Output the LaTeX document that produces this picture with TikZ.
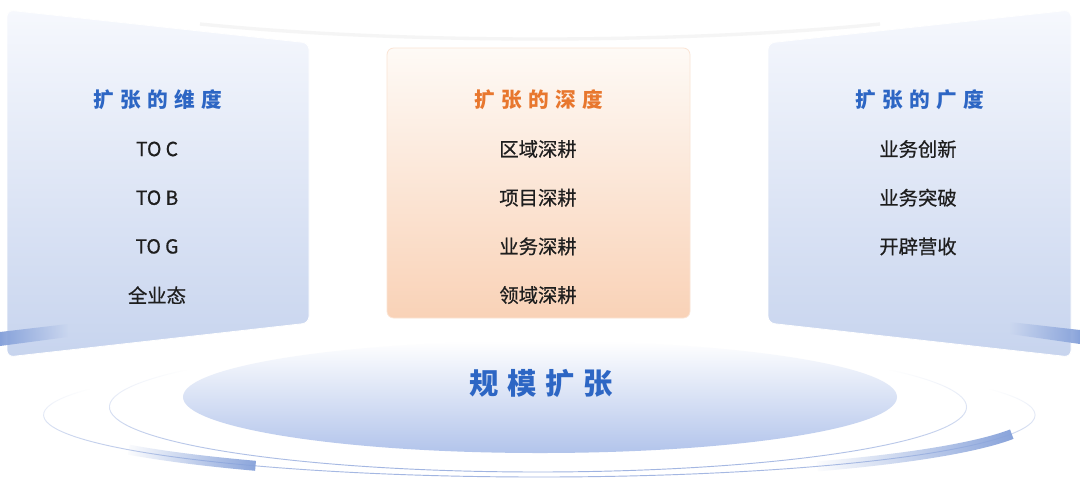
\documentclass[tikz,border=0pt]{standalone}
\usepackage{fontspec}
\newfontfamily\cjk{Noto Sans CJK SC}[FakeBold=0.6] % a little heavier
\newfontfamily\cjkwide{Noto Sans CJK SC}[LetterSpace=30] % spaced titles
\usetikzlibrary{fadings}
\definecolor{titleblue}{RGB}{45,102,196}
\definecolor{titleorange}{RGB}{232,119,46}
\definecolor{itemgray}{RGB}{30,30,30}
\definecolor{paneltop}{RGB}{246,248,253}
\definecolor{panelblue}{RGB}{199,212,238}
\definecolor{peachtop}{RGB}{254,250,246}
\definecolor{peach}{RGB}{249,210,183}
\definecolor{ringblue}{RGB}{150,172,222}
\definecolor{stripeblue}{RGB}{135,162,218}
\definecolor{discblue}{RGB}{178,196,235}
\tikzset{
  x = 0.75pt, % one pixel of the picture
  y = -0.75pt, % y runs downwards
  panel/.style = { % glassy side panel
    rounded corners = 5pt,
    top color = paneltop,
    bottom color = panelblue,
    draw = white,
    line width = 0.6pt,
  },
  midpanel/.style = { % orange centre panel
    rounded corners = 5pt,
    top color = peachtop,
    bottom color = peach,
    draw = peach!60,
    line width = 0.6pt,
  },
  ring/.style = { % thin floor ring
    draw = ringblue,
    line width = 0.7pt,
    path fading = north, % fade out to the top
  },
  stripe/.style = { % thick arc piece
    draw = stripeblue,
    line width = 7.5pt,
    path fading = west, % left end fades out
  },
  title/.style = { % panel heading
    font = \cjkwide\bfseries\fontsize{15.5}{18}\selectfont,
    text = #1,
  },
  item/.style = { % panel entry
    font = \cjk\fontsize{14.5}{18}\selectfont,
    text = itemgray,
  },
}

\begin{document}
\begin{tikzpicture}
  \useasboundingbox[fill=white] (0,0) rectangle (1080,494); % page size
  % floor: rings and disc
  \coordinate (inner) at (539,407);
  \coordinate (outer) at (540,415);
  \draw[black!4,line width=2.5pt] (200,24) .. controls (400,44) and (680,44) .. (880,24); % faint top arc
  \draw[ring] ([shift={(205:496 and 62)}]outer) arc[start angle=205,end angle=-25,x radius=496,y radius=62]; % outer ring
  \draw[ring] ([shift={(215:429 and 65)}]inner) arc[start angle=215,end angle=-35,x radius=429,y radius=65]; % inner ring
  \shade[top color=white,bottom color=discblue] (540,397) ellipse[x radius=357,y radius=56]; % disc
  \draw[stripe] ([shift={(146:496 and 62)}]outer) arc[start angle=146,end angle=125,x radius=496,y radius=62]; % left piece
  \draw[stripe] ([shift={(56:496 and 62)}]outer) arc[start angle=56,end angle=18,x radius=496,y radius=62]; % right piece
  \node[font=\cjkwide\bfseries\fontsize{22}{26}\selectfont,text=titleblue] (scale) at (541,383) {规模扩张};
  % panels
  \path[panel] (7,10) -- (309,43) -- (309,323) -- (7,357) -- cycle; % left
  \path[panel] (1071,10) -- (768,43) -- (768,323) -- (1071,357) -- cycle; % right
  \path[midpanel] (387,48) rectangle (690,318); % centre
  \fill[stripeblue,path fading=east] (0,332) -- (68,324) -- (68,337) -- (0,346) -- cycle; % left glow
  \fill[stripeblue,path fading=west] (1010,322) -- (1080,330) -- (1080,344) -- (1010,334) -- cycle; % right glow
  % headings
  \node[title=titleblue] (dim) at (158,100) {扩张的维度};
  \node[title=titleorange] (depth) at (539,100) {扩张的深度};
  \node[title=titleblue] (breadth) at (920,100) {扩张的广度};
  % entries
  \foreach \i/\txt in {1/TO C,2/TO B,3/TO G,4/全业态}{ % left column
    \node[item] (dim\i) at (157,{149+48.7*(\i-1)}) {\txt};
  }
  \foreach \i/\txt in {1/区域深耕,2/项目深耕,3/业务深耕,4/领域深耕}{ % centre column
    \node[item] (depth\i) at (538,{149+48.7*(\i-1)}) {\txt};
  }
  \foreach \i/\txt in {1/业务创新,2/业务突破,3/开辟营收}{ % right column
    \node[item] (breadth\i) at (918,{149+48.7*(\i-1)}) {\txt};
  }
\end{tikzpicture}
\end{document}
